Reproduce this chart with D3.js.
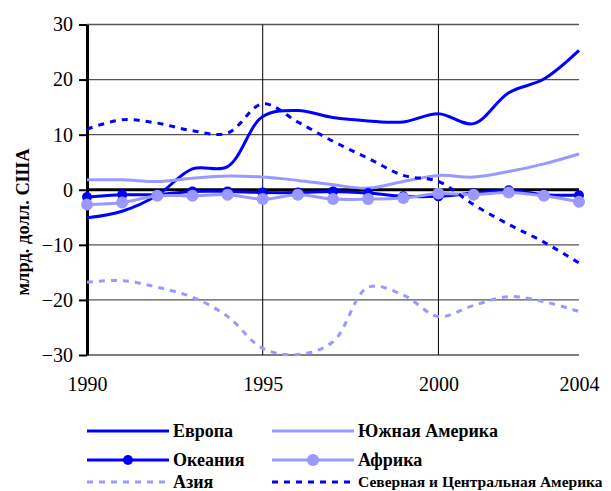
<!DOCTYPE html>
<html>
<head>
<meta charset="utf-8">
<script src="https://cdn.jsdelivr.net/npm/d3@7"></script>
<style>
  body { margin: 0; background: #fff; }
  svg, svg text { font-family: "Liberation Serif", "DejaVu Serif", serif; }
</style>
</head>
<body>
<svg id="chart" width="611" height="491"></svg>
<script>
// years on the x axis
var years = [1990, 1991, 1992, 1993, 1994, 1995, 1996, 1997, 1998, 1999, 2000, 2001, 2002, 2003, 2004];

// series values, bln USD
var europe     = [-5.1, -3.9, -1.0, 3.8, 4.2, 13.3, 14.4, 13.1, 12.5, 12.3, 13.8, 12.0, 17.6, 20.1, 25.3];
var southAm    = [1.8, 1.8, 1.5, 2.1, 2.5, 2.3, 1.7, 0.9, 0.3, 1.5, 2.6, 2.3, 3.3, 4.7, 6.5];
var oceania    = [-1.3, -0.9, -0.9, -0.3, -0.3, -0.5, -0.5, -0.3, -0.6, -1.2, -1.2, -0.6, -0.1, -0.9, -1.0];
var africa     = [-2.7, -2.3, -1.1, -1.1, -0.9, -1.7, -0.9, -1.7, -1.7, -1.5, -0.7, -0.9, -0.5, -1.1, -2.2];
var asia       = [-16.8, -16.5, -17.7, -19.5, -23.0, -28.8, -29.9, -27.6, -17.7, -19.1, -23.0, -21.0, -19.4, -20.3, -22.1];
var northCentr = [11.0, 12.7, 12.1, 10.7, 10.3, 15.6, 12.3, 8.8, 5.7, 2.6, 1.5, -2.7, -6.3, -9.5, -13.3];

var yTicks = [-30, -20, -10, 0, 10, 20, 30];
var xLabels = [1990, 1995, 2000, 2004];
var yTitle = "млрд. долл. США";

var dark = "#0000ff", light = "#9999ff";
var serif = "'Liberation Serif', 'DejaVu Serif', serif";

var series = [
    { name: "Европа", values: europe, color: dark, dash: null, marker: 0 },
    { name: "Южная Америка", values: southAm, color: light, dash: null, marker: 0 },
    { name: "Океания", values: oceania, color: dark, dash: null, marker: 5 },
    { name: "Африка", values: africa, color: light, dash: null, marker: 6 },
    { name: "Азия", values: asia, color: light, dash: "6,6", marker: 0 },
    { name: "Северная и Центральная Америка", values: northCentr, color: dark, dash: "6,6", marker: 0 }
];

var svg = d3.select("#chart");

var x = d3.scaleLinear().domain([1990, 2004]).range([87, 579]);
var y = d3.scaleLinear().domain([-30, 30]).range([355, 24.5]);

// horizontal gridlines
svg.append("g")
    .selectAll("line")
    .data(yTicks.filter(function(d) { return d != 0; }))
    .enter().append("line")
    .attr("x1", x(1990)).attr("x2", x(2004))
    .attr("y1", function(d) { return y(d); })
    .attr("y2", function(d) { return y(d); })
    .style("stroke", "#555")
    .style("stroke-width", 1.3);

// vertical gridlines
svg.append("g")
    .selectAll("line")
    .data([1995, 2000])
    .enter().append("line")
    .attr("x1", function(d) { return x(d); })
    .attr("x2", function(d) { return x(d); })
    .attr("y1", y(30)).attr("y2", y(-30))
    .style("stroke", "#000")
    .style("stroke-width", 1);

// zero line
svg.append("line")
    .attr("x1", x(1990)).attr("x2", x(2004))
    .attr("y1", y(0)).attr("y2", y(0))
    .style("stroke", "#000")
    .style("stroke-width", 3);

// y axis
var yAxis = svg.append("g")
    .attr("transform", "translate(" + x(1990) + ",0)")
    .call(d3.axisLeft(y).tickValues(yTicks).tickSize(8).tickPadding(6).tickSizeOuter(0));
yAxis.attr("font-family", null);
yAxis.select(".domain").style("stroke", "#000").style("stroke-width", 3);
yAxis.selectAll(".tick line").style("stroke", "#000").style("stroke-width", 2);
yAxis.selectAll("text")
    .style("font-family", serif)
    .style("font-size", "20px")
    .style("fill", "#000");

// x axis labels
var xAxis = svg.append("g")
    .attr("transform", "translate(0," + y(-30) + ")")
    .call(d3.axisBottom(x).tickValues(xLabels).tickFormat(d3.format("d")).tickSize(0).tickPadding(22));
xAxis.attr("font-family", null);
xAxis.select(".domain").remove();
xAxis.selectAll("text")
    .style("font-family", serif)
    .style("font-size", "20px")
    .style("fill", "#000");

// y title
svg.append("text")
    .attr("transform", "translate(29,222) rotate(-90)")
    .attr("text-anchor", "middle")
    .style("font-family", serif)
    .style("font-size", "18.5px")
    .style("font-weight", "bold")
    .text(yTitle);

var line = d3.line()
    .x(function(d, i) { return x(years[i]); })
    .y(function(d) { return y(d); })
    .curve(d3.curveCatmullRom);

var plot = svg.append("g");

series.forEach(function(s) {
    var g = plot.append("g");
    g.append("path")
        .attr("d", line(s.values))
        .style("fill", "none")
        .style("stroke", s.color)
        .style("stroke-width", 3)
        .style("stroke-dasharray", s.dash);
    if (s.marker)
    {
        g.selectAll("circle")
            .data(s.values)
            .enter().append("circle")
            .attr("cx", function(d, i) { return x(years[i]); })
            .attr("cy", function(d) { return y(d); })
            .attr("r", s.marker)
            .style("fill", s.color);
    }
});

// legend, two columns, three rows
var legendCols = [87, 272];
var legendRows = [431, 460, 482];
var legend = svg.append("g");

series.forEach(function(s, i) {
    var lx = legendCols[i % 2], ly = legendRows[Math.floor(i / 2)];
    var g = legend.append("g").attr("transform", "translate(" + lx + "," + ly + ")");
    g.append("line")
        .attr("x1", 0).attr("x2", 82)
        .attr("y1", 0).attr("y2", 0)
        .style("stroke", s.color)
        .style("stroke-width", 3)
        .style("stroke-dasharray", s.dash);
    if (s.marker)
    {
        g.append("circle").attr("cx", 41).attr("cy", 0).attr("r", s.marker).style("fill", s.color);
    }
    g.append("text")
        .attr("x", 86)
        .attr("dy", "0.35em")
        .style("font-family", serif)
        .style("font-weight", "bold")
        .style("font-size", i == 5 ? "15.5px" : "18px")
        .text(s.name);
});
</script>
</body>
</html>
